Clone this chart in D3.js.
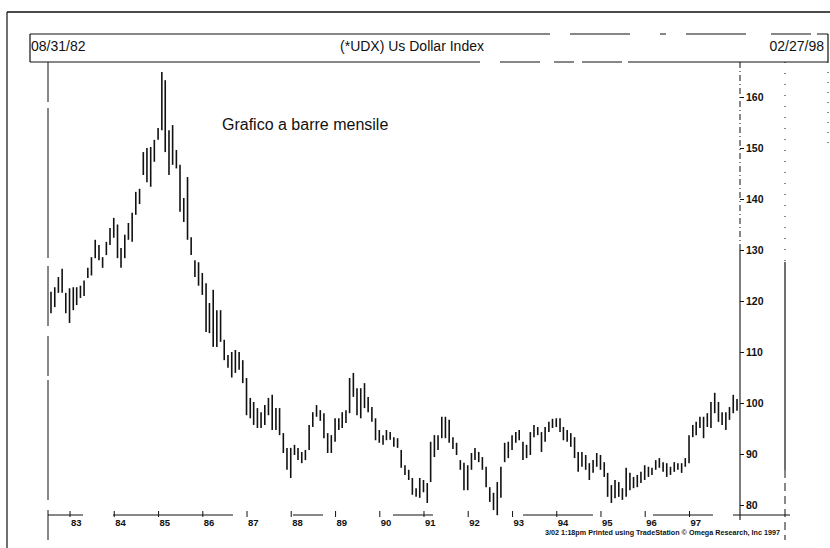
<!DOCTYPE html>
<html><head><meta charset="utf-8">
<script src="https://cdn.jsdelivr.net/npm/d3@7"></script>
<style>
body{margin:0;background:#fff}
svg{display:block}
text{font-family:"Liberation Sans",Arial,Helvetica,sans-serif;fill:#111}
</style>
</head><body>
<svg id="c" width="830" height="548"></svg>
<script>
// ---- data (monthly bars, Aug 1982 .. Feb 1998) ----
const firstMonth = "1982-08-01";
const highs = [
121.8,122.7,124.7,126.3,121.6,122.5,122.7,122.7,123.0,124.0,
126.5,128.6,132.0,131.0,128.6,131.6,134.3,136.3,135.0,130.4,
133.0,135.3,137.3,141.4,142.0,149.2,150.0,150.2,151.6,153.9,
164.9,163.3,153.5,154.5,149.6,146.7,140.2,144.3,132.5,128.0,
127.6,125.5,123.5,119.6,122.2,118.2,118.2,112.4,109.4,110.0,
110.4,110.0,108.4,104.9,101.0,100.2,99.0,98.2,99.6,101.0,
101.6,99.0,99.0,94.1,91.2,91.2,91.8,91.2,90.4,90.8,
95.7,98.2,99.6,98.6,98.0,94.1,93.7,97.0,97.0,98.2,
98.6,104.9,105.9,102.9,102.9,103.9,101.2,99.2,97.0,94.7,
93.7,94.7,94.3,93.3,93.1,90.8,87.8,86.9,85.3,83.3,
85.3,84.9,84.3,92.4,93.7,93.7,97.3,97.3,96.7,93.3,
92.2,88.8,88.3,87.8,90.2,91.2,90.4,89.4,87.5,83.5,
82.4,84.5,87.5,92.2,92.4,93.7,94.3,94.7,92.4,91.8,
94.3,95.7,95.3,94.3,95.3,96.3,96.9,97.0,97.0,95.3,
94.7,94.1,93.3,90.4,90.4,89.8,88.2,88.8,90.2,89.8,
88.4,86.3,83.9,84.9,84.5,83.3,87.3,86.3,85.5,85.9,
86.5,87.8,87.5,87.3,88.8,89.2,88.4,88.2,87.5,88.4,
88.2,88.2,89.2,93.7,95.7,96.3,97.3,97.3,98.0,100.2,
102.0,100.2,98.2,98.2,99.2,101.6,100.8
];
const lows = [
117.6,118.8,121.6,121.6,117.6,115.7,118.2,119.2,120.6,121.0,
124.5,125.0,128.4,128.0,126.5,129.0,131.0,132.4,128.4,126.5,
128.4,132.0,131.6,136.9,139.0,144.7,143.3,142.4,147.3,151.6,
153.5,149.2,144.7,146.7,146.0,137.5,135.5,132.0,129.0,124.7,
123.0,121.2,113.9,113.7,111.0,111.0,112.0,108.4,106.9,105.0,
105.9,106.5,103.9,97.6,97.0,95.7,95.1,95.1,95.7,97.6,
94.7,94.7,93.7,90.2,86.9,85.3,89.8,88.8,88.2,88.8,
90.8,95.3,97.3,96.5,93.1,90.2,90.2,92.4,94.7,95.1,
96.1,98.0,101.2,97.6,97.0,99.0,98.2,96.3,92.7,92.2,
91.8,92.7,92.8,91.4,91.2,87.3,85.9,84.9,82.0,81.6,
81.4,82.5,80.4,84.5,89.4,90.8,93.1,93.1,92.2,91.0,
89.8,86.9,82.9,82.9,86.9,88.8,88.4,86.9,83.5,80.6,
79.0,78.0,81.4,88.4,89.2,90.8,92.2,92.7,88.8,89.2,
89.8,93.3,93.7,90.4,92.4,94.3,95.1,95.3,94.3,92.7,
92.4,91.4,89.2,86.5,87.5,86.9,84.9,86.3,87.5,86.9,
85.5,81.6,80.4,81.3,81.6,81.0,81.6,82.9,83.3,83.5,
84.3,84.9,85.5,85.9,86.9,87.3,86.5,85.5,85.9,86.5,
86.9,86.3,87.5,88.2,93.3,93.7,95.1,93.1,95.3,95.1,
98.0,96.3,95.7,94.7,96.7,98.0,98.5
];
const priceTicks = [80, 90, 100, 110, 120, 130, 140, 150, 160];
const yearTicks = [1983,1984,1985,1986,1987,1988,1989,1990,1991,1992,1993,1994,1995,1996,1997];
const headerLeft = "08/31/82";
const headerTitle = "(*UDX) Us Dollar Index";
const headerRight = "02/27/98";
const chartNote = "Grafico a barre mensile";
const creditLine = "3/02 1:18pm Printed using TradeStation \u00A9 Omega Research, Inc 1997";

// ---- build ----
const parse = d3.timeParse("%Y-%m-%d");
const start = parse(firstMonth);
const bars = highs.map((h, i) => ({date: d3.timeMonth.offset(start, i), high: h, low: lows[i]}));

const svg = d3.select("#c");
const x = d3.scaleTime()
  .domain([start, bars[bars.length - 1].date])
  .range([51, 737]);
const y = d3.scaleLinear().domain([80, 160]).range([505, 97]);

const ink = "#111";
function line(x1, y1, x2, y2, w, dash) {
  const l = svg.append("line").attr("x1", x1).attr("y1", y1).attr("x2", x2).attr("y2", y2)
    .attr("stroke", ink).attr("stroke-width", w);
  if (dash) l.attr("stroke-dasharray", dash);
  return l;
}

// outer frame (scanned page)
line(7, 12, 830, 12, 1.4);
line(7, 12, 7, 548, 1.2);
// header box
line(30, 34, 828, 34, 1.2, "520,20,60,30,6,20,60,25,40,6,170");
line(30, 62, 828, 62, 1.2, "450,20,40,14,20,8,40,6,210");
line(30, 34, 30, 62, 1.2);
line(828, 34, 828, 62, 1.2);
line(828, 62, 828, 150, 1, "1,9");
// plot left edge
line(48, 62, 48, 540, 1, "40,6,150,8,60,10,40,4,120,10");
// price axis
line(740, 62, 740, 250, 1, "6,3,1,3");
line(740, 250, 740, 520, 1.1);
// far right rule
line(785, 62, 785, 262, 1, "1,10");
line(785, 262, 785, 470, 1.2);
line(785, 470, 785, 540, 1, "8,5");
// bottom axis
line(48, 515, 790, 515, 1, "35,30,120,60,30,70,40,90,70,60,60,20,90,40");

// header texts
svg.append("text").attr("x", 31).attr("y", 51).attr("font-size", 14).text(headerLeft);
svg.append("text").attr("x", 412).attr("y", 51).attr("font-size", 14).attr("text-anchor", "middle").text(headerTitle);
svg.append("text").attr("x", 824).attr("y", 51).attr("font-size", 14).attr("text-anchor", "end").text(headerRight);

// chart note
svg.append("text").attr("x", 222).attr("y", 130).attr("font-size", 16).text(chartNote);

// price axis ticks and labels
const yAxis = d3.axisRight(y).tickValues(priceTicks).tickSize(4).tickPadding(2);
const gy = svg.append("g").attr("transform", "translate(740,0)").call(yAxis);
gy.select(".domain").remove();
gy.selectAll("line").attr("stroke", ink).attr("stroke-width", 1);
gy.selectAll("text").attr("font-size", 10.5).attr("font-weight", "bold").attr("fill", ink)
  .style("font-family", "'Liberation Sans Narrow','Liberation Sans',Arial,sans-serif");

// year axis
const xAxis = d3.axisBottom(x)
  .tickValues(yearTicks.map(yr => new Date(yr, 0, 1)))
  .tickFormat(d3.timeFormat("%y")).tickSize(6).tickPadding(0);
const gx = svg.append("g").attr("transform", "translate(0,511)").call(xAxis);
gx.select(".domain").remove();
gx.selectAll("line").attr("stroke", ink).attr("stroke-width", 1);
gx.selectAll("text").attr("font-size", 9.5).attr("font-weight", "bold").attr("fill", ink)
  .attr("text-anchor", "start").attr("dx", 1).attr("dy", "0.95em")
  .style("font-family", "'Liberation Sans Narrow','Liberation Sans',Arial,sans-serif");

// bars
svg.append("g").selectAll("line").data(bars).join("line")
  .attr("x1", d => x(d.date)).attr("x2", d => x(d.date))
  .attr("y1", d => y(d.high)).attr("y2", d => y(d.low))
  .attr("stroke", ink).attr("stroke-width", 1.6);

// credit
svg.append("text").attr("x", 545).attr("y", 535).attr("font-size", 6.5).attr("font-weight", "bold")
  .attr("textLength", 235).attr("lengthAdjust", "spacingAndGlyphs").text(creditLine);
</script>
</body></html>
